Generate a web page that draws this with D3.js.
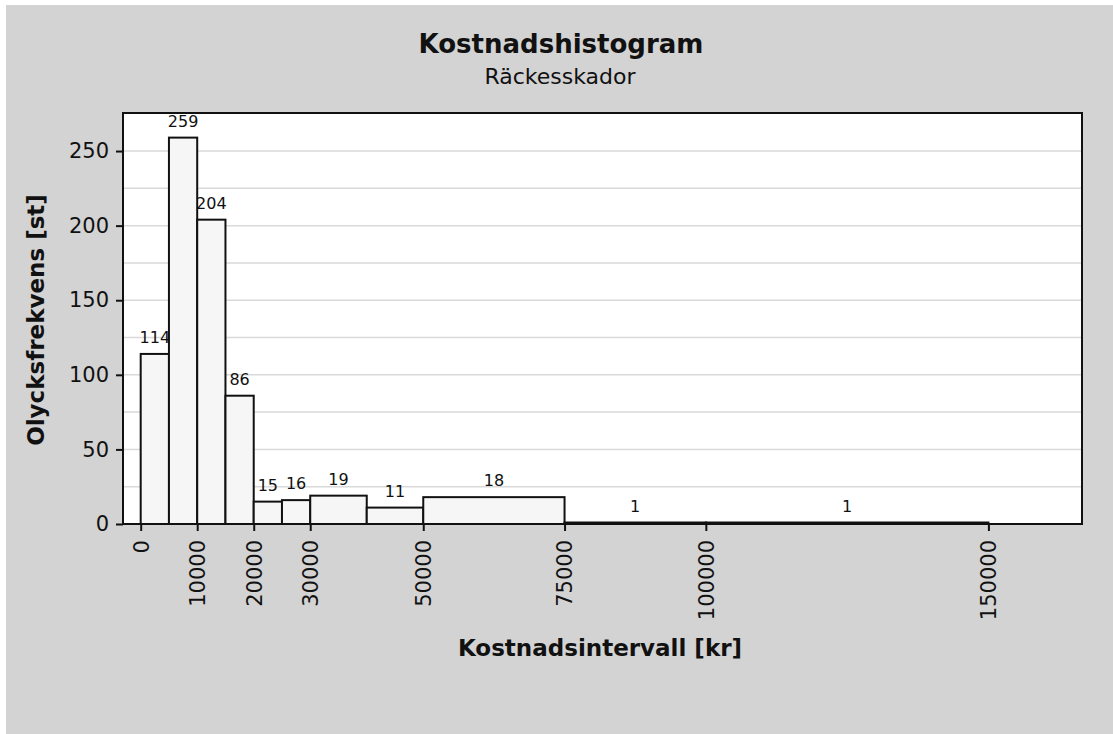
<!DOCTYPE html>
<meta charset="utf-8">
<style>
    body { margin: 0; background: #fff; }
    text { font-family: "DejaVu Sans", Verdana, sans-serif; fill: #111; }
    .title { font-size: 26px; font-weight: bold; }
    .subtitle { font-size: 22px; }
    .axis-title { font-size: 23px; font-weight: bold; }
    .tick-label { font-size: 21px; }
    .bar-label { font-size: 16px; }
    .grid line { stroke: #d9d9d9; stroke-width: 1.5px; }
    .bars rect { fill: #f6f6f6; stroke: #111; stroke-width: 2px; }
</style>
<svg width="1113" height="734"></svg>
<script src="https://d3js.org/d3.v7.min.js"></script>
<script>

    // bins of the cost histogram (kr) and their counts
    var binStart = [0, 5000, 10000, 15000, 20000, 25000, 30000, 40000, 50000, 75000, 100000];
    var binEnd   = [5000, 10000, 15000, 20000, 25000, 30000, 40000, 50000, 75000, 100000, 150000];
    var counts   = [114, 259, 204, 86, 15, 16, 19, 11, 18, 1, 1];

    var xTicks = [0, 10000, 20000, 30000, 50000, 75000, 100000, 150000];
    var yTicks = [0, 50, 100, 150, 200, 250];
    var yGrid  = [25, 50, 75, 100, 125, 150, 175, 200, 225, 250];

    var svg = d3.select("svg"),
            width = +svg.attr("width"),
            height = +svg.attr("height");

    var plot = {left: 123, top: 113, right: 1082, bottom: 524};

    var x = d3.scaleLinear()
            .domain([-3130, 166560])
            .range([plot.left, plot.right]);

    var y = d3.scaleLinear()
            .domain([0, 275.5])
            .range([plot.bottom, plot.top]);

    var bins = counts.map(function(c, i) {
        return {x0: binStart[i], x1: binEnd[i], count: c};
    });

    // grey chart background
    svg.append("rect")
            .attr("x", 6).attr("y", 5)
            .attr("width", width - 6).attr("height", height - 5)
            .attr("fill", "#d3d3d3");

    svg.append("rect")
            .attr("x", plot.left).attr("y", plot.top)
            .attr("width", plot.right - plot.left)
            .attr("height", plot.bottom - plot.top)
            .attr("fill", "#fff");

    svg.append("g")
            .attr("class", "grid")
            .selectAll("line")
            .data(yGrid)
            .enter().append("line")
            .attr("x1", plot.left).attr("x2", plot.right)
            .attr("y1", function(d) { return y(d); })
            .attr("y2", function(d) { return y(d); });

    svg.append("g")
            .attr("class", "bars")
            .selectAll("rect")
            .data(bins)
            .enter().append("rect")
            .attr("x", function(d) { return x(d.x0); })
            .attr("y", function(d) { return y(d.count); })
            .attr("width", function(d) { return x(d.x1) - x(d.x0); })
            .attr("height", function(d) { return y(0) - y(d.count); });

    svg.append("g")
            .selectAll("text")
            .data(bins)
            .enter().append("text")
            .attr("class", "bar-label")
            .attr("text-anchor", "middle")
            .attr("x", function(d) { return (x(d.x0) + x(d.x1)) / 2; })
            .attr("y", function(d) { return y(d.count) - 11; })
            .text(function(d) { return d.count; });

    // frame
    svg.append("rect")
            .attr("x", plot.left).attr("y", plot.top)
            .attr("width", plot.right - plot.left)
            .attr("height", plot.bottom - plot.top)
            .attr("fill", "none")
            .attr("stroke", "#111")
            .attr("stroke-width", 2);

    var yAxis = svg.append("g")
            .attr("transform", "translate(" + plot.left + ",0)")
            .call(d3.axisLeft(y).tickValues(yTicks).tickSize(7).tickPadding(7).tickFormat(d3.format("d")));
    yAxis.select(".domain").remove();
    yAxis.selectAll(".tick line").attr("stroke", "#111").attr("stroke-width", 2);
    yAxis.selectAll(".tick text")
            .attr("class", "tick-label")
            .attr("font-family", null).attr("font-size", null);

    var xAxis = svg.append("g")
            .attr("transform", "translate(0," + plot.bottom + ")")
            .call(d3.axisBottom(x).tickValues(xTicks).tickSize(7).tickFormat(d3.format("d")));
    xAxis.select(".domain").remove();
    xAxis.selectAll(".tick line").attr("stroke", "#111").attr("stroke-width", 2);
    xAxis.selectAll(".tick text")
            .attr("class", "tick-label")
            .attr("font-family", null).attr("font-size", null)
            .attr("transform", "rotate(-90)")
            .attr("text-anchor", "end")
            .attr("x", -16)
            .attr("y", 0)
            .attr("dy", "0.35em");

    svg.append("text")
            .attr("class", "title")
            .attr("text-anchor", "middle")
            .attr("x", 561).attr("y", 53)
            .text("Kostnadshistogram");

    svg.append("text")
            .attr("class", "subtitle")
            .attr("text-anchor", "middle")
            .attr("x", 560).attr("y", 84)
            .text("Räckesskador");

    svg.append("text")
            .attr("class", "axis-title")
            .attr("text-anchor", "middle")
            .attr("x", 600).attr("y", 656)
            .text("Kostnadsintervall [kr]");

    svg.append("text")
            .attr("class", "axis-title")
            .attr("text-anchor", "middle")
            .attr("transform", "translate(44,320) rotate(-90)")
            .text("Olycksfrekvens [st]");

</script>
